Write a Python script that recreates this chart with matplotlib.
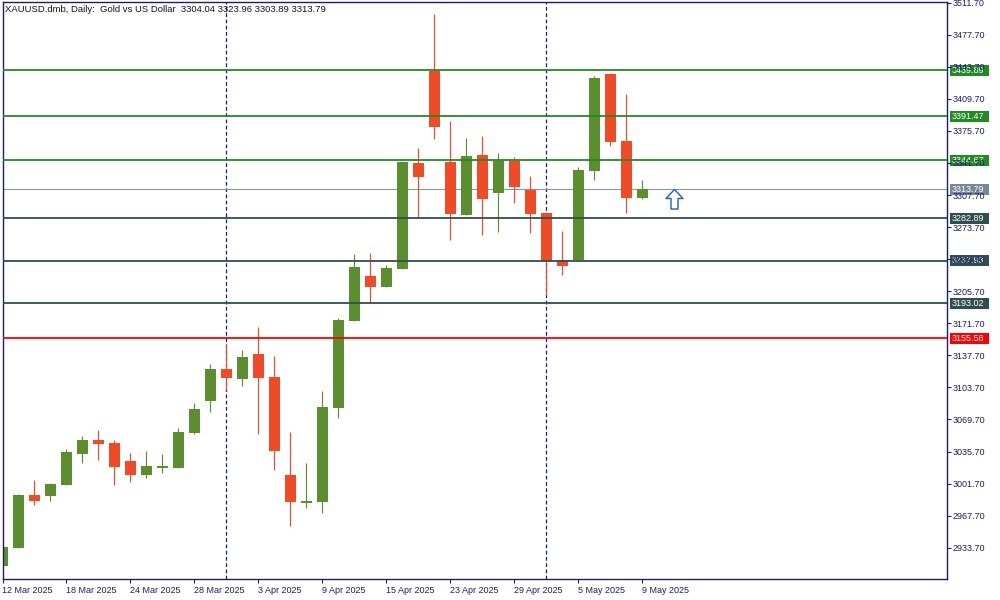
import matplotlib
matplotlib.use('Agg')
import matplotlib.pyplot as plt
from matplotlib.path import Path
from matplotlib.patches import Rectangle
from matplotlib.transforms import IdentityTransform, blended_transform_factory

# ---------------- data ----------------
dates = ['12 Mar', '13 Mar', '14 Mar', '17 Mar', '18 Mar', '19 Mar', '20 Mar', '21 Mar',
         '24 Mar', '25 Mar', '26 Mar', '27 Mar', '28 Mar', '31 Mar', '1 Apr', '2 Apr',
         '3 Apr', '4 Apr', '7 Apr', '8 Apr', '9 Apr', '10 Apr', '11 Apr', '14 Apr',
         '15 Apr', '16 Apr', '17 Apr', '22 Apr', '23 Apr', '24 Apr', '25 Apr', '28 Apr',
         '29 Apr', '30 Apr', '1 May', '2 May', '5 May', '6 May', '7 May', '8 May', '9 May']
opens = [2914.6, 2933.7, 2989.6, 2988.9, 3000.5, 3033.4, 3047.9, 3044.7, 3025.7, 3011.1,
         3018.5, 3018.5, 3055.7, 3089.6, 3123.2, 3112.9, 3139.1, 3114.7, 3010.8, 2981.4,
         2982.5, 3082.2, 3174.4, 3221.8, 3210.5, 3229.6, 3341.7, 3439.3, 3342.8, 3286.9,
         3350.2, 3310.2, 3343.8, 3313.1, 3288.7, 3238.8, 3238.8, 3333.5, 3436.0, 3365.0,
         3304.04]
highs = [2935.2, 2990.7, 3005.5, 3002.6, 3038.4, 3052.2, 3058.5, 3048.0, 3034.1, 3036.3,
         3033.1, 3060.6, 3087.2, 3128.5, 3150.1, 3143.4, 3167.8, 3137.0, 3056.4, 3023.5,
         3099.9, 3177.3, 3245.2, 3246.2, 3233.5, 3343.8, 3357.6, 3499.7, 3386.2, 3368.2,
         3370.3, 3352.3, 3348.1, 3328.3, 3289.7, 3269.9, 3337.4, 3433.9, 3437.1, 3414.8,
         3323.96]
lows = [2913.8, 2932.9, 2979.3, 2983.5, 2999.9, 3023.8, 3027.0, 3000.5, 3003.7, 3007.9,
        3013.2, 3018.0, 3054.6, 3077.9, 3101.3, 3105.5, 3054.6, 3016.4, 2957.0, 2976.1,
        2970.8, 3071.6, 3174.0, 3193.5, 3210.0, 3229.0, 3284.7, 3367.5, 3260.4, 3286.3,
        3265.7, 3268.8, 3299.6, 3267.8, 3202.0, 3223.2, 3238.2, 3324.0, 3360.0, 3289.0,
        3303.89]
closes = [2934.4, 2989.6, 2983.5, 3001.3, 3035.2, 3047.9, 3044.0, 3019.6, 3011.1, 3020.3,
          3020.3, 3056.4, 3080.8, 3123.2, 3114.0, 3135.9, 3114.0, 3036.6, 2982.5, 2983.5,
          3082.9, 3175.2, 3231.4, 3210.5, 3230.3, 3342.8, 3327.2, 3380.2, 3287.9, 3349.1,
          3303.8, 3343.8, 3316.6, 3287.9, 3238.1, 3232.8, 3334.3, 3431.8, 3364.3, 3304.9,
          3313.79]

level_prices = [3439.89, 3391.47, 3344.67, 3282.89, 3237.93, 3193.02, 3155.58]
level_colors = ['#228b22', '#228b22', '#228b22', '#2f4f4f', '#2f4f4f', '#2f4f4f', '#ff0000']
last_price = 3313.79
arrow_index = 42
arrow_price = 3313.79

ytick_values = [2933.70, 2967.70, 3001.70, 3035.70, 3069.70, 3103.70, 3137.70, 3171.70,
                3205.70, 3239.70, 3273.70, 3307.70, 3341.70, 3375.70, 3409.70, 3443.70,
                3477.70, 3511.70]
title = "XAUUSD.dmb, Daily:  Gold vs US Dollar  3304.04 3323.96 3303.89 3313.79"

# ---------------- style ----------------
BULL = '#5b8e2e'
BEAR = '#f04b26'
NAVY = '#1c1c72'
FONT = 'Liberation Sans'
FS = 6.5

fig = plt.figure(figsize=(10, 6), dpi=100)
ax = fig.add_axes([0.0025, 0.035, 0.9442, 0.9612])
ax.set_facecolor('white')

n = len(dates)
xs = list(range(n))
cols = [BULL if c >= o else BEAR for o, c in zip(opens, closes)]
bottoms = [min(o, c) for o, c in zip(opens, closes)]
heights = [max(abs(c - o), 0.9) for o, c in zip(opens, closes)]

ax.vlines(xs, lows, highs, colors=cols, linewidth=0.85, zorder=2)
ax.bar(xs, heights, bottom=bottoms, width=0.6875, color=cols, linewidth=0, zorder=2.1)

ax.set_xlim(0, 59.03)
ax.set_ylim(2900.5, 3512.1)

# month separators
for i in range(1, n):
    if dates[i].split()[1] != dates[i - 1].split()[1]:
        ax.axvline(i, color=NAVY, linewidth=0.9, linestyle=(0, (3, 2)), zorder=1)

# horizontal levels
for p, c in zip(level_prices, level_colors):
    ax.axhline(p, color=c, linewidth=1.3, zorder=3)
ax.axhline(last_price, color='#8a96a3', linewidth=0.8, zorder=1.8)

# arrow object
arrow_verts = [(0, 0), (8.5, -9), (3.5, -9), (3.5, -19.5), (-3.5, -19.5), (-3.5, -9),
               (-8.5, -9), (0, 0)]
arrow_path = Path(arrow_verts, [Path.MOVETO] + [Path.LINETO] * 6 + [Path.CLOSEPOLY])
ax.plot([arrow_index], [arrow_price], marker=arrow_path, markersize=28.1,
        markerfacecolor='white', markeredgecolor='#1f5fbf', markeredgewidth=1.0,
        linestyle='none', zorder=4, clip_on=False)

# axes styling
for s in ax.spines.values():
    s.set_color(NAVY)
    s.set_linewidth(1.0)

ax.yaxis.tick_right()
ax.set_yticks(ytick_values)
ax.set_yticklabels([f'{v:.2f}' for v in ytick_values], fontfamily=FONT)
ax.tick_params(axis='y', direction='out', length=3, width=0.8, colors=NAVY,
               labelsize=FS, pad=1.5)

tick_pos = list(range(0, n, 4))
ax.set_xticks(tick_pos)
ax.set_xticklabels([dates[i] + ' 2025' for i in tick_pos], fontfamily=FONT)
ax.tick_params(axis='x', direction='out', length=3, width=0.8, colors=NAVY,
               labelsize=FS, pad=2)
for lab in ax.get_xticklabels():
    lab.set_ha('left')

# price label boxes on the right scale
fig.canvas.draw()
x_edge = ax.transAxes.transform((1, 0))[0]
boxes = list(zip(level_prices, level_colors)) + [(last_price, '#778899')]
for p, c in boxes:
    ypix = ax.transData.transform((0, p))[1]
    ax.add_patch(Rectangle((x_edge + 3, ypix - 5.5), 39, 11, transform=IdentityTransform(),
                           facecolor=c, edgecolor='none', zorder=1.0, clip_on=False))
    ax.text(x_edge + 5, ypix, f'{p:.2f}', transform=IdentityTransform(), ha='left',
            va='center', color='white', fontsize=FS, fontfamily=FONT, zorder=1.1,
            clip_on=False)

fig.text(0.005, 1 - 9.5 / 600, title, ha='left', va='center', fontsize=FS + 0.3,
         fontfamily=FONT, color='#101030')

fig.savefig('out.png', dpi=100, facecolor='white')
